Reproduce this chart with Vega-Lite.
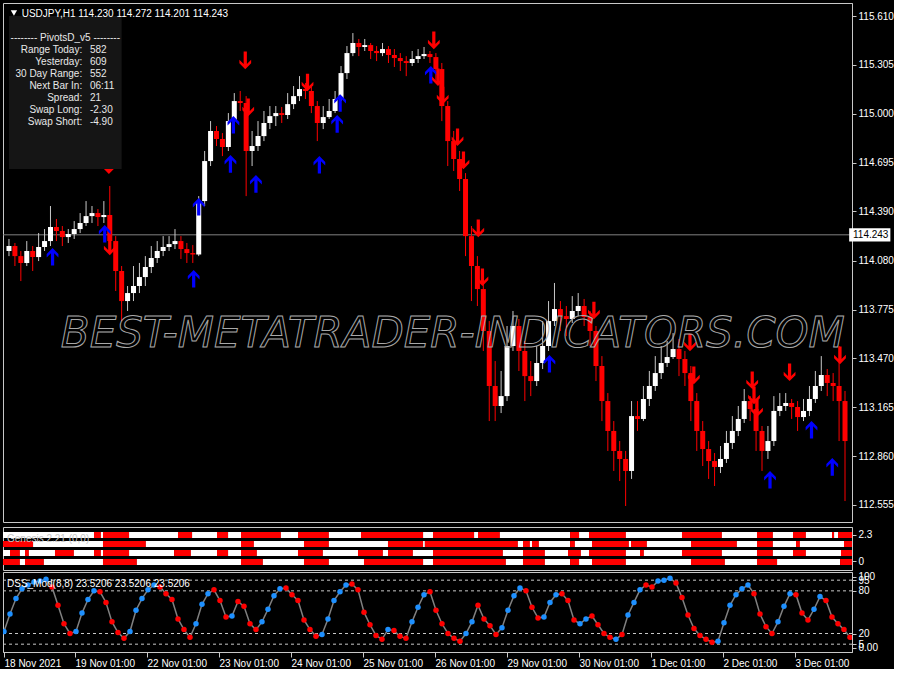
{
"$schema": "https://vega.github.io/schema/vega-lite/v6.json",
"background": "#000000",
"padding": {"left": 2, "top": 2, "right": 0, "bottom": 0},
"spacing": 3,
"config": {
  "view": {"stroke": "#c8c8c8", "strokeWidth": 1},
  "axis": {"labelFont": "Liberation Sans", "labelFontSize": 10, "labelColor": "#ffffff", "tickColor": "#c8c8c8", "domainColor": "#c8c8c8", "grid": false, "tickSize": 4, "labelPadding": 2}
},
"datasets": {
"candles": [
{"t":0,"o":114.142,"h":114.217,"l":114.110,"c":114.173,"d":"up"},
{"t":2,"o":114.173,"h":114.192,"l":114.048,"c":114.110,"d":"dn"},
{"t":4,"o":114.110,"h":114.142,"l":113.954,"c":114.067,"d":"dn"},
{"t":6,"o":114.067,"h":114.204,"l":114.048,"c":114.142,"d":"up"},
{"t":8,"o":114.142,"h":114.173,"l":114.017,"c":114.104,"d":"dn"},
{"t":10,"o":114.104,"h":114.254,"l":114.079,"c":114.167,"d":"up"},
{"t":12,"o":114.167,"h":114.279,"l":114.142,"c":114.204,"d":"up"},
{"t":14,"o":114.204,"h":114.423,"l":114.173,"c":114.292,"d":"up"},
{"t":16,"o":114.292,"h":114.342,"l":114.204,"c":114.267,"d":"dn"},
{"t":18,"o":114.267,"h":114.298,"l":114.173,"c":114.229,"d":"dn"},
{"t":20,"o":114.229,"h":114.279,"l":114.192,"c":114.248,"d":"up"},
{"t":22,"o":114.248,"h":114.329,"l":114.217,"c":114.279,"d":"up"},
{"t":24,"o":114.279,"h":114.379,"l":114.254,"c":114.317,"d":"up"},
{"t":26,"o":114.317,"h":114.454,"l":114.298,"c":114.360,"d":"up"},
{"t":28,"o":114.360,"h":114.423,"l":114.317,"c":114.379,"d":"up"},
{"t":30,"o":114.379,"h":114.404,"l":114.298,"c":114.354,"d":"dn"},
{"t":32,"o":114.354,"h":114.454,"l":114.317,"c":114.367,"d":"up"},
{"t":34,"o":114.367,"h":114.548,"l":114.142,"c":114.204,"d":"dn"},
{"t":36,"o":114.204,"h":114.235,"l":113.892,"c":114.017,"d":"dn"},
{"t":38,"o":114.017,"h":114.048,"l":113.704,"c":113.829,"d":"dn"},
{"t":40,"o":113.829,"h":113.923,"l":113.767,"c":113.879,"d":"up"},
{"t":42,"o":113.879,"h":114.048,"l":113.829,"c":113.923,"d":"up"},
{"t":44,"o":113.923,"h":114.067,"l":113.879,"c":113.979,"d":"up"},
{"t":46,"o":113.979,"h":114.110,"l":113.923,"c":114.042,"d":"up"},
{"t":48,"o":114.042,"h":114.173,"l":114.004,"c":114.098,"d":"up"},
{"t":50,"o":114.098,"h":114.204,"l":114.067,"c":114.142,"d":"up"},
{"t":52,"o":114.142,"h":114.235,"l":114.110,"c":114.167,"d":"up"},
{"t":54,"o":114.167,"h":114.235,"l":114.142,"c":114.185,"d":"up"},
{"t":56,"o":114.185,"h":114.279,"l":114.154,"c":114.204,"d":"up"},
{"t":58,"o":114.204,"h":114.235,"l":114.092,"c":114.154,"d":"dn"},
{"t":60,"o":114.154,"h":114.192,"l":114.067,"c":114.129,"d":"dn"},
{"t":62,"o":114.129,"h":114.179,"l":114.067,"c":114.120,"d":"dn"},
{"t":64,"o":114.120,"h":114.485,"l":114.110,"c":114.454,"d":"up"},
{"t":66,"o":114.454,"h":114.767,"l":114.423,"c":114.704,"d":"up"},
{"t":68,"o":114.704,"h":114.954,"l":114.673,"c":114.892,"d":"up"},
{"t":70,"o":114.892,"h":114.923,"l":114.798,"c":114.842,"d":"dn"},
{"t":72,"o":114.842,"h":114.879,"l":114.735,"c":114.792,"d":"dn"},
{"t":74,"o":114.792,"h":115.004,"l":114.767,"c":114.954,"d":"up"},
{"t":76,"o":114.954,"h":115.129,"l":114.923,"c":115.079,"d":"up"},
{"t":78,"o":115.079,"h":115.142,"l":115.017,"c":115.067,"d":"dn"},
{"t":80,"o":115.067,"h":115.110,"l":114.485,"c":114.767,"d":"dn"},
{"t":82,"o":114.767,"h":114.892,"l":114.673,"c":114.798,"d":"up"},
{"t":84,"o":114.798,"h":114.954,"l":114.767,"c":114.860,"d":"up"},
{"t":86,"o":114.860,"h":115.017,"l":114.829,"c":114.942,"d":"up"},
{"t":88,"o":114.942,"h":115.048,"l":114.904,"c":114.985,"d":"up"},
{"t":90,"o":114.985,"h":115.048,"l":114.923,"c":115.004,"d":"up"},
{"t":92,"o":115.004,"h":115.042,"l":114.942,"c":114.992,"d":"dn"},
{"t":94,"o":114.992,"h":115.129,"l":114.967,"c":115.060,"d":"up"},
{"t":96,"o":115.060,"h":115.173,"l":115.029,"c":115.110,"d":"up"},
{"t":98,"o":115.110,"h":115.235,"l":115.079,"c":115.154,"d":"up"},
{"t":100,"o":115.154,"h":115.192,"l":115.092,"c":115.142,"d":"dn"},
{"t":102,"o":115.142,"h":115.167,"l":115.004,"c":115.048,"d":"dn"},
{"t":104,"o":115.048,"h":115.079,"l":114.829,"c":114.942,"d":"dn"},
{"t":106,"o":114.942,"h":115.048,"l":114.904,"c":114.979,"d":"up"},
{"t":108,"o":114.979,"h":115.092,"l":114.967,"c":115.017,"d":"up"},
{"t":110,"o":115.017,"h":115.142,"l":115.004,"c":115.092,"d":"up"},
{"t":112,"o":115.092,"h":115.298,"l":115.079,"c":115.254,"d":"up"},
{"t":114,"o":115.254,"h":115.423,"l":115.217,"c":115.379,"d":"up"},
{"t":116,"o":115.379,"h":115.504,"l":115.360,"c":115.442,"d":"up"},
{"t":118,"o":115.442,"h":115.467,"l":115.360,"c":115.417,"d":"dn"},
{"t":120,"o":115.417,"h":115.467,"l":115.392,"c":115.429,"d":"up"},
{"t":122,"o":115.429,"h":115.442,"l":115.342,"c":115.392,"d":"dn"},
{"t":124,"o":115.392,"h":115.423,"l":115.329,"c":115.379,"d":"dn"},
{"t":126,"o":115.379,"h":115.442,"l":115.360,"c":115.404,"d":"up"},
{"t":128,"o":115.404,"h":115.423,"l":115.317,"c":115.367,"d":"dn"},
{"t":130,"o":115.367,"h":115.404,"l":115.292,"c":115.348,"d":"dn"},
{"t":132,"o":115.348,"h":115.379,"l":115.267,"c":115.329,"d":"dn"},
{"t":134,"o":115.329,"h":115.360,"l":115.235,"c":115.317,"d":"dn"},
{"t":136,"o":115.317,"h":115.392,"l":115.298,"c":115.342,"d":"up"},
{"t":138,"o":115.342,"h":115.404,"l":115.317,"c":115.360,"d":"up"},
{"t":140,"o":115.360,"h":115.417,"l":115.342,"c":115.373,"d":"up"},
{"t":142,"o":115.373,"h":115.392,"l":115.317,"c":115.354,"d":"dn"},
{"t":144,"o":115.354,"h":115.379,"l":115.204,"c":115.279,"d":"dn"},
{"t":146,"o":115.279,"h":115.317,"l":114.954,"c":115.048,"d":"dn"},
{"t":148,"o":115.048,"h":115.079,"l":114.673,"c":114.829,"d":"dn"},
{"t":150,"o":114.829,"h":114.892,"l":114.642,"c":114.717,"d":"dn"},
{"t":152,"o":114.717,"h":114.767,"l":114.517,"c":114.592,"d":"dn"},
{"t":154,"o":114.592,"h":114.629,"l":114.110,"c":114.235,"d":"dn"},
{"t":156,"o":114.235,"h":114.298,"l":113.829,"c":114.048,"d":"dn"},
{"t":158,"o":114.048,"h":114.110,"l":113.798,"c":113.904,"d":"dn"},
{"t":160,"o":113.904,"h":113.954,"l":113.517,"c":113.642,"d":"dn"},
{"t":162,"o":113.642,"h":113.704,"l":113.079,"c":113.298,"d":"dn"},
{"t":164,"o":113.298,"h":113.454,"l":113.079,"c":113.173,"d":"dn"},
{"t":166,"o":113.173,"h":113.392,"l":113.129,"c":113.235,"d":"up"},
{"t":168,"o":113.235,"h":113.673,"l":113.204,"c":113.548,"d":"up"},
{"t":170,"o":113.548,"h":113.767,"l":113.517,"c":113.673,"d":"up"},
{"t":172,"o":113.673,"h":113.717,"l":113.392,"c":113.517,"d":"dn"},
{"t":174,"o":113.517,"h":113.579,"l":113.204,"c":113.360,"d":"dn"},
{"t":176,"o":113.360,"h":113.454,"l":113.235,"c":113.329,"d":"dn"},
{"t":178,"o":113.329,"h":113.548,"l":113.298,"c":113.442,"d":"up"},
{"t":180,"o":113.442,"h":113.704,"l":113.404,"c":113.548,"d":"up"},
{"t":182,"o":113.548,"h":113.829,"l":113.517,"c":113.704,"d":"up"},
{"t":184,"o":113.704,"h":113.942,"l":113.673,"c":113.779,"d":"up"},
{"t":186,"o":113.779,"h":113.829,"l":113.642,"c":113.735,"d":"dn"},
{"t":188,"o":113.735,"h":113.798,"l":113.610,"c":113.717,"d":"dn"},
{"t":190,"o":113.717,"h":113.860,"l":113.692,"c":113.767,"d":"up"},
{"t":192,"o":113.767,"h":113.879,"l":113.735,"c":113.798,"d":"up"},
{"t":194,"o":113.798,"h":113.842,"l":113.673,"c":113.729,"d":"dn"},
{"t":196,"o":113.729,"h":113.767,"l":113.548,"c":113.642,"d":"dn"},
{"t":198,"o":113.642,"h":113.673,"l":113.329,"c":113.423,"d":"dn"},
{"t":200,"o":113.423,"h":113.485,"l":113.079,"c":113.204,"d":"dn"},
{"t":202,"o":113.204,"h":113.254,"l":112.892,"c":113.017,"d":"dn"},
{"t":204,"o":113.017,"h":113.079,"l":112.767,"c":112.892,"d":"dn"},
{"t":206,"o":112.892,"h":112.954,"l":112.704,"c":112.842,"d":"dn"},
{"t":208,"o":112.842,"h":112.892,"l":112.548,"c":112.767,"d":"dn"},
{"t":210,"o":112.767,"h":113.204,"l":112.717,"c":113.110,"d":"up"},
{"t":212,"o":113.110,"h":113.204,"l":113.017,"c":113.092,"d":"dn"},
{"t":214,"o":113.092,"h":113.298,"l":113.079,"c":113.217,"d":"up"},
{"t":216,"o":113.217,"h":113.392,"l":113.173,"c":113.298,"d":"up"},
{"t":218,"o":113.298,"h":113.485,"l":113.267,"c":113.379,"d":"up"},
{"t":220,"o":113.379,"h":113.548,"l":113.342,"c":113.442,"d":"up"},
{"t":222,"o":113.442,"h":113.579,"l":113.417,"c":113.479,"d":"up"},
{"t":224,"o":113.479,"h":113.629,"l":113.467,"c":113.529,"d":"up"},
{"t":226,"o":113.529,"h":113.592,"l":113.360,"c":113.467,"d":"dn"},
{"t":228,"o":113.467,"h":113.517,"l":113.298,"c":113.379,"d":"dn"},
{"t":230,"o":113.379,"h":113.423,"l":113.079,"c":113.204,"d":"dn"},
{"t":232,"o":113.204,"h":113.254,"l":112.892,"c":113.017,"d":"dn"},
{"t":234,"o":113.017,"h":113.079,"l":112.798,"c":112.904,"d":"dn"},
{"t":236,"o":112.904,"h":112.954,"l":112.717,"c":112.829,"d":"dn"},
{"t":238,"o":112.829,"h":112.879,"l":112.673,"c":112.792,"d":"dn"},
{"t":240,"o":112.792,"h":112.923,"l":112.754,"c":112.842,"d":"up"},
{"t":242,"o":112.842,"h":113.017,"l":112.817,"c":112.942,"d":"up"},
{"t":244,"o":112.942,"h":113.110,"l":112.904,"c":113.017,"d":"up"},
{"t":246,"o":113.017,"h":113.173,"l":112.985,"c":113.092,"d":"up"},
{"t":248,"o":113.092,"h":113.279,"l":113.067,"c":113.204,"d":"up"},
{"t":250,"o":113.204,"h":113.235,"l":113.079,"c":113.154,"d":"dn"},
{"t":252,"o":113.154,"h":113.204,"l":112.892,"c":113.017,"d":"dn"},
{"t":254,"o":113.017,"h":113.048,"l":112.767,"c":112.892,"d":"dn"},
{"t":256,"o":112.892,"h":113.048,"l":112.842,"c":112.954,"d":"up"},
{"t":258,"o":112.954,"h":113.235,"l":112.923,"c":113.142,"d":"up"},
{"t":260,"o":113.142,"h":113.254,"l":113.110,"c":113.173,"d":"up"},
{"t":262,"o":113.173,"h":113.254,"l":113.142,"c":113.192,"d":"up"},
{"t":264,"o":113.192,"h":113.217,"l":113.092,"c":113.167,"d":"dn"},
{"t":266,"o":113.167,"h":113.204,"l":113.017,"c":113.104,"d":"dn"},
{"t":268,"o":113.104,"h":113.217,"l":113.079,"c":113.142,"d":"up"},
{"t":270,"o":113.142,"h":113.298,"l":113.110,"c":113.217,"d":"up"},
{"t":272,"o":113.217,"h":113.392,"l":113.192,"c":113.298,"d":"up"},
{"t":274,"o":113.298,"h":113.485,"l":113.267,"c":113.367,"d":"up"},
{"t":276,"o":113.367,"h":113.404,"l":113.235,"c":113.317,"d":"dn"},
{"t":278,"o":113.317,"h":113.379,"l":113.204,"c":113.298,"d":"dn"},
{"t":280,"o":113.298,"h":113.548,"l":112.954,"c":113.204,"d":"dn"},
{"t":282,"o":113.204,"h":113.267,"l":112.579,"c":112.954,"d":"dn"}
],
"arrows": [
{"t":14.7,"p":114.110,"dir":"buy"},{"t":32.3,"p":114.254,"dir":"buy"},{"t":62.3,"p":113.973,"dir":"buy"},{"t":64,"p":114.423,"dir":"buy"},{"t":74.7,"p":114.691,"dir":"buy"},{"t":75.7,"p":114.935,"dir":"buy"},{"t":83.3,"p":114.566,"dir":"buy"},{"t":104.7,"p":114.685,"dir":"buy"},{"t":110.7,"p":114.941,"dir":"buy"},{"t":111.7,"p":115.072,"dir":"buy"},{"t":142.3,"p":115.248,"dir":"buy"},{"t":182.3,"p":113.441,"dir":"buy"},{"t":256.7,"p":112.716,"dir":"buy"},{"t":270.7,"p":113.029,"dir":"buy"},{"t":277.7,"p":112.797,"dir":"buy"},
{"t":33.7,"p":114.673,"dir":"sell"},{"t":34,"p":114.166,"dir":"sell"},{"t":79.7,"p":115.329,"dir":"sell"},{"t":80.7,"p":115.035,"dir":"sell"},{"t":100.7,"p":115.191,"dir":"sell"},{"t":143.3,"p":115.454,"dir":"sell"},{"t":144.7,"p":115.223,"dir":"sell"},{"t":146.3,"p":115.110,"dir":"sell"},{"t":151.3,"p":114.848,"dir":"sell"},{"t":153.3,"p":114.704,"dir":"sell"},{"t":158.3,"p":114.279,"dir":"sell"},{"t":159.7,"p":113.973,"dir":"sell"},{"t":197.3,"p":113.766,"dir":"sell"},{"t":229.7,"p":113.566,"dir":"sell"},{"t":231,"p":113.360,"dir":"sell"},{"t":250.7,"p":113.329,"dir":"sell"},{"t":251.3,"p":113.235,"dir":"sell"},{"t":252.3,"p":113.154,"dir":"sell"},{"t":263.3,"p":113.379,"dir":"sell"},{"t":280.3,"p":113.485,"dir":"sell"}
],
"info": [
{"p":115.398,"lab":"Range  Today:","val":"582"},
{"p":115.323,"lab":"Yesterday:","val":"609"},
{"p":115.248,"lab":"30 Day Range:","val":"552"},
{"p":115.173,"lab":"Next Bar In:","val":"06:11"},
{"p":115.098,"lab":"Spread:","val":"21"},
{"p":115.023,"lab":"Swap  Long:","val":"-2.30"},
{"p":114.948,"lab":"Swap  Short:","val":"-4.90"}
],
"strip": [
{"row":"r1","s":-0.33,"e":30,"v":"W"},{"row":"r1","s":30,"e":32.3,"v":"R"},{"row":"r1","s":32.3,"e":33,"v":"W"},{"row":"r1","s":33,"e":41.7,"v":"R"},{"row":"r1","s":41.7,"e":58,"v":"W"},{"row":"r1","s":58,"e":62.7,"v":"R"},{"row":"r1","s":62.7,"e":71,"v":"W"},{"row":"r1","s":71,"e":74.7,"v":"R"},{"row":"r1","s":74.7,"e":79,"v":"W"},{"row":"r1","s":79,"e":92.3,"v":"R"},{"row":"r1","s":92.3,"e":98,"v":"W"},{"row":"r1","s":98,"e":108.3,"v":"R"},{"row":"r1","s":108.3,"e":119,"v":"W"},{"row":"r1","s":119,"e":139.7,"v":"R"},{"row":"r1","s":139.7,"e":143,"v":"W"},{"row":"r1","s":143,"e":156.7,"v":"R"},{"row":"r1","s":156.7,"e":158,"v":"W"},{"row":"r1","s":158,"e":165.3,"v":"R"},{"row":"r1","s":165.3,"e":188.7,"v":"W"},{"row":"r1","s":188.7,"e":191.7,"v":"R"},{"row":"r1","s":191.7,"e":195,"v":"W"},{"row":"r1","s":195,"e":207.3,"v":"R"},{"row":"r1","s":207.3,"e":226,"v":"W"},{"row":"r1","s":226,"e":239.3,"v":"R"},{"row":"r1","s":239.3,"e":251,"v":"W"},{"row":"r1","s":251,"e":256.3,"v":"R"},{"row":"r1","s":256.3,"e":263,"v":"W"},{"row":"r1","s":263,"e":267.3,"v":"R"},{"row":"r1","s":267.3,"e":276,"v":"W"},{"row":"r1","s":276,"e":276.7,"v":"R"},{"row":"r1","s":276.7,"e":278,"v":"W"},{"row":"r1","s":278,"e":282.67,"v":"R"},
{"row":"r2","s":-0.33,"e":9.7,"v":"R"},{"row":"r2","s":9.7,"e":33,"v":"W"},{"row":"r2","s":33,"e":47.3,"v":"R"},{"row":"r2","s":47.3,"e":79,"v":"W"},{"row":"r2","s":79,"e":83.3,"v":"R"},{"row":"r2","s":83.3,"e":100,"v":"W"},{"row":"r2","s":100,"e":108.3,"v":"R"},{"row":"r2","s":108.3,"e":128,"v":"W"},{"row":"r2","s":128,"e":139.7,"v":"R"},{"row":"r2","s":139.7,"e":140.3,"v":"W"},{"row":"r2","s":140.3,"e":171.3,"v":"R"},{"row":"r2","s":171.3,"e":173,"v":"W"},{"row":"r2","s":173,"e":175.3,"v":"R"},{"row":"r2","s":175.3,"e":176,"v":"W"},{"row":"r2","s":176,"e":178.3,"v":"R"},{"row":"r2","s":178.3,"e":188.7,"v":"W"},{"row":"r2","s":188.7,"e":190.3,"v":"R"},{"row":"r2","s":190.3,"e":196,"v":"W"},{"row":"r2","s":196,"e":208.3,"v":"R"},{"row":"r2","s":208.3,"e":209,"v":"W"},{"row":"r2","s":209,"e":214.3,"v":"R"},{"row":"r2","s":214.3,"e":229,"v":"W"},{"row":"r2","s":229,"e":244.3,"v":"R"},{"row":"r2","s":244.3,"e":251,"v":"W"},{"row":"r2","s":251,"e":256.3,"v":"R"},{"row":"r2","s":256.3,"e":264,"v":"W"},{"row":"r2","s":264,"e":265.3,"v":"R"},{"row":"r2","s":265.3,"e":280,"v":"W"},{"row":"r2","s":280,"e":282.67,"v":"R"},
{"row":"r3","s":-0.33,"e":2,"v":"W"},{"row":"r3","s":2,"e":5.3,"v":"R"},{"row":"r3","s":5.3,"e":7,"v":"W"},{"row":"r3","s":7,"e":8.3,"v":"R"},{"row":"r3","s":8.3,"e":17,"v":"W"},{"row":"r3","s":17,"e":23.3,"v":"R"},{"row":"r3","s":23.3,"e":30,"v":"W"},{"row":"r3","s":30,"e":32.3,"v":"R"},{"row":"r3","s":32.3,"e":33,"v":"W"},{"row":"r3","s":33,"e":41.7,"v":"R"},{"row":"r3","s":41.7,"e":56.7,"v":"W"},{"row":"r3","s":56.7,"e":62.3,"v":"R"},{"row":"r3","s":62.3,"e":71,"v":"W"},{"row":"r3","s":71,"e":74.7,"v":"R"},{"row":"r3","s":74.7,"e":79,"v":"W"},{"row":"r3","s":79,"e":84.3,"v":"R"},{"row":"r3","s":84.3,"e":98,"v":"W"},{"row":"r3","s":98,"e":106.3,"v":"R"},{"row":"r3","s":106.3,"e":118,"v":"W"},{"row":"r3","s":118,"e":126.3,"v":"R"},{"row":"r3","s":126.3,"e":128,"v":"W"},{"row":"r3","s":128,"e":136.3,"v":"R"},{"row":"r3","s":136.3,"e":143,"v":"W"},{"row":"r3","s":143,"e":166.3,"v":"R"},{"row":"r3","s":166.3,"e":173,"v":"W"},{"row":"r3","s":173,"e":180.3,"v":"R"},{"row":"r3","s":180.3,"e":188,"v":"W"},{"row":"r3","s":188,"e":192.3,"v":"R"},{"row":"r3","s":192.3,"e":195,"v":"W"},{"row":"r3","s":195,"e":207.3,"v":"R"},{"row":"r3","s":207.3,"e":212,"v":"W"},{"row":"r3","s":212,"e":213.3,"v":"R"},{"row":"r3","s":213.3,"e":226,"v":"W"},{"row":"r3","s":226,"e":239.3,"v":"R"},{"row":"r3","s":239.3,"e":251,"v":"W"},{"row":"r3","s":251,"e":256.3,"v":"R"},{"row":"r3","s":256.3,"e":263,"v":"W"},{"row":"r3","s":263,"e":267.3,"v":"R"},{"row":"r3","s":267.3,"e":279,"v":"W"},{"row":"r3","s":279,"e":282.67,"v":"R"},
{"row":"r4","s":-0.33,"e":5.3,"v":"R"},{"row":"r4","s":5.3,"e":7,"v":"W"},{"row":"r4","s":7,"e":13.3,"v":"R"},{"row":"r4","s":13.3,"e":33,"v":"W"},{"row":"r4","s":33,"e":44.3,"v":"R"},{"row":"r4","s":44.3,"e":79,"v":"W"},{"row":"r4","s":79,"e":86.3,"v":"R"},{"row":"r4","s":86.3,"e":100,"v":"W"},{"row":"r4","s":100,"e":108.3,"v":"R"},{"row":"r4","s":108.3,"e":120,"v":"W"},{"row":"r4","s":120,"e":139.7,"v":"R"},{"row":"r4","s":139.7,"e":143,"v":"W"},{"row":"r4","s":143,"e":167.3,"v":"R"},{"row":"r4","s":167.3,"e":173,"v":"W"},{"row":"r4","s":173,"e":180.3,"v":"R"},{"row":"r4","s":180.3,"e":188.7,"v":"W"},{"row":"r4","s":188.7,"e":191.7,"v":"R"},{"row":"r4","s":191.7,"e":196,"v":"W"},{"row":"r4","s":196,"e":207.3,"v":"R"},{"row":"r4","s":207.3,"e":229,"v":"W"},{"row":"r4","s":229,"e":240.3,"v":"R"},{"row":"r4","s":240.3,"e":251,"v":"W"},{"row":"r4","s":251,"e":257.7,"v":"R"},{"row":"r4","s":257.7,"e":278.7,"v":"W"},{"row":"r4","s":278.7,"e":282.67,"v":"R"}
],
"dss": [
{"t":0,"v":22.8,"c":"b"},{"t":2,"v":47.3,"c":"b"},{"t":4,"v":69.1,"c":"b"},{"t":6,"v":82.8,"c":"b"},{"t":8,"v":88.2,"c":"b"},{"t":10,"v":92.3,"c":"b"},{"t":12,"v":93.7,"c":"b"},{"t":14,"v":96.4,"c":"b"},{"t":16,"v":85.5,"c":"r"},{"t":18,"v":59.6,"c":"r"},{"t":20,"v":33.7,"c":"r"},{"t":22,"v":20.0,"c":"r"},{"t":24,"v":22.8,"c":"b"},{"t":26,"v":48.7,"c":"b"},{"t":28,"v":67.8,"c":"b"},{"t":30,"v":80.0,"c":"b"},{"t":32,"v":78.7,"c":"r"},{"t":34,"v":63.7,"c":"r"},{"t":36,"v":36.4,"c":"r"},{"t":38,"v":21.4,"c":"r"},{"t":40,"v":13.2,"c":"r"},{"t":42,"v":22.8,"c":"b"},{"t":44,"v":52.8,"c":"b"},{"t":46,"v":69.1,"c":"b"},{"t":48,"v":81.4,"c":"b"},{"t":50,"v":88.2,"c":"b"},{"t":52,"v":85.5,"c":"r"},{"t":54,"v":76.0,"c":"r"},{"t":56,"v":67.8,"c":"r"},{"t":58,"v":40.5,"c":"r"},{"t":60,"v":25.5,"c":"r"},{"t":62,"v":14.6,"c":"r"},{"t":64,"v":33.7,"c":"b"},{"t":66,"v":61.0,"c":"b"},{"t":68,"v":76.0,"c":"b"},{"t":70,"v":81.4,"c":"r"},{"t":72,"v":66.4,"c":"r"},{"t":74,"v":43.2,"c":"r"},{"t":76,"v":44.6,"c":"b"},{"t":78,"v":65.0,"c":"r"},{"t":80,"v":58.2,"c":"r"},{"t":82,"v":33.7,"c":"r"},{"t":84,"v":25.5,"c":"r"},{"t":86,"v":36.4,"c":"b"},{"t":88,"v":54.1,"c":"b"},{"t":90,"v":73.2,"c":"b"},{"t":92,"v":82.8,"c":"b"},{"t":94,"v":84.1,"c":"r"},{"t":96,"v":74.6,"c":"r"},{"t":98,"v":66.4,"c":"r"},{"t":100,"v":39.1,"c":"r"},{"t":102,"v":25.5,"c":"r"},{"t":104,"v":16.0,"c":"r"},{"t":106,"v":18.7,"c":"b"},{"t":108,"v":40.5,"c":"b"},{"t":110,"v":66.4,"c":"b"},{"t":112,"v":78.7,"c":"b"},{"t":114,"v":88.2,"c":"b"},{"t":116,"v":89.6,"c":"r"},{"t":118,"v":81.4,"c":"r"},{"t":120,"v":50.0,"c":"r"},{"t":122,"v":32.3,"c":"r"},{"t":124,"v":17.3,"c":"r"},{"t":126,"v":11.9,"c":"r"},{"t":128,"v":25.5,"c":"b"},{"t":130,"v":24.1,"c":"r"},{"t":132,"v":16.0,"c":"r"},{"t":134,"v":13.2,"c":"r"},{"t":136,"v":36.4,"c":"b"},{"t":138,"v":56.9,"c":"b"},{"t":140,"v":74.6,"c":"b"},{"t":142,"v":78.7,"c":"r"},{"t":144,"v":52.8,"c":"r"},{"t":146,"v":33.7,"c":"r"},{"t":148,"v":20.0,"c":"r"},{"t":150,"v":13.2,"c":"r"},{"t":152,"v":9.1,"c":"r"},{"t":154,"v":20.0,"c":"b"},{"t":156,"v":36.4,"c":"b"},{"t":158,"v":59.6,"c":"r"},{"t":160,"v":40.5,"c":"r"},{"t":162,"v":31.0,"c":"r"},{"t":164,"v":18.7,"c":"r"},{"t":166,"v":28.2,"c":"b"},{"t":168,"v":52.8,"c":"b"},{"t":170,"v":73.2,"c":"b"},{"t":172,"v":84.1,"c":"b"},{"t":174,"v":80.0,"c":"r"},{"t":176,"v":56.9,"c":"r"},{"t":178,"v":41.9,"c":"r"},{"t":180,"v":43.2,"c":"b"},{"t":182,"v":63.7,"c":"b"},{"t":184,"v":74.6,"c":"b"},{"t":186,"v":76.0,"c":"r"},{"t":188,"v":66.4,"c":"r"},{"t":190,"v":39.1,"c":"r"},{"t":192,"v":33.7,"c":"b"},{"t":194,"v":40.5,"c":"b"},{"t":196,"v":44.6,"c":"r"},{"t":198,"v":32.3,"c":"r"},{"t":200,"v":20.0,"c":"r"},{"t":202,"v":14.6,"c":"r"},{"t":204,"v":11.9,"c":"b"},{"t":206,"v":18.7,"c":"r"},{"t":208,"v":46.0,"c":"b"},{"t":210,"v":63.7,"c":"b"},{"t":212,"v":81.4,"c":"b"},{"t":214,"v":88.2,"c":"r"},{"t":216,"v":85.5,"c":"r"},{"t":218,"v":93.7,"c":"b"},{"t":220,"v":95.0,"c":"b"},{"t":222,"v":97.8,"c":"b"},{"t":224,"v":91.0,"c":"r"},{"t":226,"v":70.5,"c":"r"},{"t":228,"v":46.0,"c":"r"},{"t":230,"v":26.9,"c":"r"},{"t":232,"v":17.3,"c":"r"},{"t":234,"v":11.9,"c":"r"},{"t":236,"v":7.8,"c":"r"},{"t":238,"v":9.1,"c":"b"},{"t":240,"v":35.0,"c":"b"},{"t":242,"v":59.6,"c":"b"},{"t":244,"v":74.6,"c":"b"},{"t":246,"v":82.8,"c":"b"},{"t":248,"v":88.2,"c":"b"},{"t":250,"v":76.0,"c":"r"},{"t":252,"v":47.3,"c":"r"},{"t":254,"v":29.6,"c":"r"},{"t":256,"v":20.0,"c":"r"},{"t":258,"v":36.4,"c":"b"},{"t":260,"v":58.2,"c":"b"},{"t":262,"v":76.0,"c":"b"},{"t":264,"v":74.6,"c":"r"},{"t":266,"v":48.7,"c":"r"},{"t":268,"v":39.1,"c":"r"},{"t":270,"v":54.1,"c":"b"},{"t":272,"v":71.9,"c":"b"},{"t":274,"v":66.4,"c":"r"},{"t":276,"v":43.2,"c":"r"},{"t":278,"v":33.7,"c":"r"},{"t":280,"v":25.5,"c":"r"},{"t":282,"v":14.6,"c":"r"}
]
},
"vconcat": [
{
  "width": 849, "height": 519,
  "layer": [
    {"data": {"values": [{"p": 114.243}]}, "mark": {"type": "rule", "color": "#808080", "strokeWidth": 1},
     "encoding": {"y": {"field": "p", "type": "quantitative", "scale": {"domain": [112.448, 115.692], "nice": false, "zero": false},
       "axis": {"orient": "right", "values": [112.555, 112.86, 113.165, 113.47, 113.775, 114.08, 114.39, 114.695, 115, 115.305, 115.61], "format": ".3f", "labelOverlap": false, "title": null}}}},
    {"data": {"name": "candles"}, "mark": {"type": "rule", "strokeWidth": 1, "clip": true},
     "encoding": {"x": {"field": "t", "type": "quantitative", "scale": {"domain": [-0.33, 282.67], "nice": false, "zero": false}, "axis": null},
       "y": {"field": "l", "type": "quantitative", "scale": {"domain": [112.448, 115.692], "nice": false, "zero": false},
         "axis": {"orient": "right", "values": [112.555, 112.86, 113.165, 113.47, 113.775, 114.08, 114.39, 114.695, 115, 115.305, 115.61], "format": ".3f", "labelOverlap": false, "title": null}},
       "y2": {"field": "h"},
       "color": {"field": "d", "type": "nominal", "scale": {"domain": ["up", "dn"], "range": ["#c8c8c8", "#ff0000"]}, "legend": null}}},
    {"data": {"name": "candles"}, "mark": {"type": "bar", "width": 5, "clip": true},
     "encoding": {"x": {"field": "t", "type": "quantitative", "scale": {"domain": [-0.33, 282.67], "nice": false, "zero": false}, "axis": null},
       "y": {"field": "o", "type": "quantitative", "scale": {"domain": [112.448, 115.692], "nice": false, "zero": false},
         "axis": {"orient": "right", "values": [112.555, 112.86, 113.165, 113.47, 113.775, 114.08, 114.39, 114.695, 115, 115.305, 115.61], "format": ".3f", "labelOverlap": false, "title": null}},
       "y2": {"field": "c"},
       "color": {"field": "d", "type": "nominal", "scale": {"domain": ["up", "dn"], "range": ["#ffffff", "#ff0000"]}, "legend": null}}},
    {"data": {"name": "arrows"}, "mark": {"type": "point", "filled": true, "size": 360, "opacity": 1, "strokeWidth": 0},
     "encoding": {"x": {"field": "t", "type": "quantitative", "scale": {"domain": [-0.33, 282.67], "nice": false, "zero": false}, "axis": null},
       "y": {"field": "p", "type": "quantitative", "scale": {"domain": [112.448, 115.692], "nice": false, "zero": false},
         "axis": {"orient": "right", "values": [112.555, 112.86, 113.165, 113.47, 113.775, 114.08, 114.39, 114.695, 115, 115.305, 115.61], "format": ".3f", "labelOverlap": false, "title": null}},
       "shape": {"field": "dir", "type": "nominal", "scale": {"domain": ["buy", "sell"], "range": ["M-0.17,1 L0.17,1 L0.17,-0.3 L0.62,0.15 L0.62,-0.22 L0,-0.85 L-0.62,-0.22 L-0.62,0.15 L-0.17,-0.3 Z", "M-0.17,-1 L0.17,-1 L0.17,0.3 L0.62,-0.15 L0.62,0.22 L0,0.85 L-0.62,0.22 L-0.62,-0.15 L-0.17,0.3 Z"]}, "legend": null},
       "color": {"field": "dir", "type": "nominal", "scale": {"domain": ["buy", "sell"], "range": ["#0000ff", "#ff0000"]}, "legend": null}}},
    {"data": {"values": [{"t": 149.7, "p": 113.623, "txt": "BEST-METATRADER-INDICATORS.COM"}]},
     "mark": {"type": "text", "align": "center", "baseline": "middle", "font": "DejaVu Sans", "fontSize": 42, "fontStyle": "italic", "fill": "transparent", "stroke": "#a8a8a8", "strokeWidth": 1},
     "encoding": {"x": {"field": "t", "type": "quantitative", "scale": {"domain": [-0.33, 282.67], "nice": false, "zero": false}, "axis": null},
       "y": {"field": "p", "type": "quantitative", "scale": {"domain": [112.448, 115.692], "nice": false, "zero": false},
         "axis": {"orient": "right", "values": [112.555, 112.86, 113.165, 113.47, 113.775, 114.08, 114.39, 114.695, 115, 115.305, 115.61], "format": ".3f", "labelOverlap": false, "title": null}},
       "text": {"field": "txt"}}},
    {"data": {"values": [{"t0": 0, "t1": 38, "p0": 114.654, "p1": 115.610}]}, "mark": {"type": "rect", "color": "#151515"},
     "encoding": {"x": {"field": "t0", "type": "quantitative", "scale": {"domain": [-0.33, 282.67], "nice": false, "zero": false}, "axis": null},
       "x2": {"field": "t1"},
       "y": {"field": "p0", "type": "quantitative", "scale": {"domain": [112.448, 115.692], "nice": false, "zero": false},
         "axis": {"orient": "right", "values": [112.555, 112.86, 113.165, 113.47, 113.775, 114.08, 114.39, 114.695, 115, 115.305, 115.61], "format": ".3f", "labelOverlap": false, "title": null}},
       "y2": {"field": "p1"}}},
    {"data": {"values": [{"t": 19, "p": 115.473, "txt": "--------  PivotsD_v5  --------"}]},
     "mark": {"type": "text", "align": "center", "baseline": "middle", "font": "Liberation Sans", "fontSize": 10, "color": "#e8e8e8"},
     "encoding": {"x": {"field": "t", "type": "quantitative", "scale": {"domain": [-0.33, 282.67], "nice": false, "zero": false}, "axis": null},
       "y": {"field": "p", "type": "quantitative", "scale": {"domain": [112.448, 115.692], "nice": false, "zero": false},
         "axis": {"orient": "right", "values": [112.555, 112.86, 113.165, 113.47, 113.775, 114.08, 114.39, 114.695, 115, 115.305, 115.61], "format": ".3f", "labelOverlap": false, "title": null}},
       "text": {"field": "txt"}}},
    {"data": {"name": "info"},
     "mark": {"type": "text", "align": "right", "baseline": "middle", "font": "Liberation Sans", "fontSize": 10, "color": "#e8e8e8"},
     "encoding": {"x": {"datum": 24.7, "type": "quantitative", "scale": {"domain": [-0.33, 282.67], "nice": false, "zero": false}, "axis": null},
       "y": {"field": "p", "type": "quantitative", "scale": {"domain": [112.448, 115.692], "nice": false, "zero": false},
         "axis": {"orient": "right", "values": [112.555, 112.86, 113.165, 113.47, 113.775, 114.08, 114.39, 114.695, 115, 115.305, 115.61], "format": ".3f", "labelOverlap": false, "title": null}},
       "text": {"field": "lab"}}},
    {"data": {"name": "info"},
     "mark": {"type": "text", "align": "left", "baseline": "middle", "font": "Liberation Sans", "fontSize": 10, "color": "#e8e8e8"},
     "encoding": {"x": {"datum": 27.3, "type": "quantitative", "scale": {"domain": [-0.33, 282.67], "nice": false, "zero": false}, "axis": null},
       "y": {"field": "p", "type": "quantitative", "scale": {"domain": [112.448, 115.692], "nice": false, "zero": false},
         "axis": {"orient": "right", "values": [112.555, 112.86, 113.165, 113.47, 113.775, 114.08, 114.39, 114.695, 115, 115.305, 115.61], "format": ".3f", "labelOverlap": false, "title": null}},
       "text": {"field": "val"}}},
    {"data": {"values": [{"t": 1.67, "p": 115.629}]}, "mark": {"type": "point", "shape": "triangle-down", "filled": true, "size": 40, "color": "#ffffff", "opacity": 1},
     "encoding": {"x": {"field": "t", "type": "quantitative", "scale": {"domain": [-0.33, 282.67], "nice": false, "zero": false}, "axis": null},
       "y": {"field": "p", "type": "quantitative", "scale": {"domain": [112.448, 115.692], "nice": false, "zero": false},
         "axis": {"orient": "right", "values": [112.555, 112.86, 113.165, 113.47, 113.775, 114.08, 114.39, 114.695, 115, 115.305, 115.61], "format": ".3f", "labelOverlap": false, "title": null}}}},
    {"data": {"values": [{"t": 4.3, "p": 115.626, "txt": "USDJPY,H1  114.230 114.272 114.201 114.243"}]},
     "mark": {"type": "text", "align": "left", "baseline": "middle", "font": "Liberation Sans", "fontSize": 10, "color": "#ffffff"},
     "encoding": {"x": {"field": "t", "type": "quantitative", "scale": {"domain": [-0.33, 282.67], "nice": false, "zero": false}, "axis": null},
       "y": {"field": "p", "type": "quantitative", "scale": {"domain": [112.448, 115.692], "nice": false, "zero": false},
         "axis": {"orient": "right", "values": [112.555, 112.86, 113.165, 113.47, 113.775, 114.08, 114.39, 114.695, 115, 115.305, 115.61], "format": ".3f", "labelOverlap": false, "title": null}},
       "text": {"field": "txt"}}},
    {"data": {"values": [{"t0": 283.4, "t1": 297.3, "p0": 114.202, "p1": 114.284}]}, "mark": {"type": "rect", "color": "#ffffff"},
     "encoding": {"x": {"field": "t0", "type": "quantitative", "scale": {"domain": [-0.33, 282.67], "nice": false, "zero": false}, "axis": null},
       "x2": {"field": "t1"},
       "y": {"field": "p0", "type": "quantitative", "scale": {"domain": [112.448, 115.692], "nice": false, "zero": false},
         "axis": {"orient": "right", "values": [112.555, 112.86, 113.165, 113.47, 113.775, 114.08, 114.39, 114.695, 115, 115.305, 115.61], "format": ".3f", "labelOverlap": false, "title": null}},
       "y2": {"field": "p1"}}},
    {"data": {"values": [{"t": 284.7, "p": 114.243, "txt": "114.243"}]},
     "mark": {"type": "text", "align": "left", "baseline": "middle", "font": "Liberation Sans", "fontSize": 10, "color": "#000000"},
     "encoding": {"x": {"field": "t", "type": "quantitative", "scale": {"domain": [-0.33, 282.67], "nice": false, "zero": false}, "axis": null},
       "y": {"field": "p", "type": "quantitative", "scale": {"domain": [112.448, 115.692], "nice": false, "zero": false},
         "axis": {"orient": "right", "values": [112.555, 112.86, 113.165, 113.47, 113.775, 114.08, 114.39, 114.695, 115, 115.305, 115.61], "format": ".3f", "labelOverlap": false, "title": null}},
       "text": {"field": "txt"}}}
  ],
  "resolve": {"scale": {"color": "independent", "shape": "independent"}}
},
{
  "spacing": 0,
  "vconcat": [
    {
      "width": 849, "height": 43,
      "layer": [
        {"data": {"name": "strip"}, "mark": {"type": "bar", "clip": true},
         "encoding": {"x": {"field": "s", "type": "quantitative", "scale": {"domain": [-0.33, 282.67], "nice": false, "zero": false}, "axis": null},
           "x2": {"field": "e"},
           "y": {"field": "row", "type": "ordinal", "scale": {"domain": ["r1", "r2", "r3", "r4"], "paddingInner": 0.333, "paddingOuter": 0.556},
             "axis": {"orient": "right", "values": ["r1", "r4"], "labelExpr": "datum.value == 'r1' ? '2.3' : '0'", "title": null}},
           "color": {"field": "v", "type": "nominal", "scale": {"domain": ["R", "W"], "range": ["#ff0000", "#ffffff"]}, "legend": null}}},
        {"data": {"values": [{"t": 1, "row": "r1", "txt": "Genesis 2.21 (0,0)"}]},
         "mark": {"type": "text", "align": "left", "baseline": "middle", "dy": 4, "font": "Liberation Sans", "fontSize": 10, "color": "#c8c8c8"},
         "encoding": {"x": {"field": "t", "type": "quantitative", "scale": {"domain": [-0.33, 282.67], "nice": false, "zero": false}, "axis": null},
           "y": {"field": "row", "type": "ordinal", "scale": {"domain": ["r1", "r2", "r3", "r4"], "paddingInner": 0.333, "paddingOuter": 0.556},
             "axis": {"orient": "right", "values": ["r1", "r4"], "labelExpr": "datum.value == 'r1' ? '2.3' : '0'", "title": null}},
           "text": {"field": "txt"}}}
      ]
    },
    {
      "width": 849, "height": 80,
      "layer": [
        {"data": {"values": [{"v": 95}, {"v": 80}, {"v": 20}, {"v": 5}]}, "mark": {"type": "rule", "color": "#c8c8c8", "strokeDash": [3, 3], "strokeWidth": 1},
         "encoding": {"y": {"field": "v", "type": "quantitative", "scale": {"domain": [-6, 106.5], "nice": false, "zero": false},
           "axis": {"orient": "right", "values": [100, 95, 80, 20, 5, 0], "labelOverlap": false, "labelExpr": "datum.value == 0 ? '0.00' : datum.label", "title": null}}}},
        {"data": {"name": "dss"}, "mark": {"type": "line", "color": "#808080", "strokeWidth": 1.5, "clip": true},
         "encoding": {"x": {"field": "t", "type": "quantitative", "scale": {"domain": [-0.33, 282.67], "nice": false, "zero": false},
           "axis": {"orient": "bottom", "values": [0, 23.67, 47.67, 71.67, 95.67, 119.67, 143.67, 167.67, 191.67, 215.67, 239.67, 263.67], "labelExpr": "['18 Nov 2021','19 Nov 01:00','22 Nov 01:00','23 Nov 01:00','24 Nov 01:00','25 Nov 01:00','26 Nov 01:00','29 Nov 01:00','30 Nov 01:00','1 Dec 01:00','2 Dec 01:00','3 Dec 01:00'][round((datum.value + 0.4) / 24)]", "labelAlign": "left", "labelPadding": 1, "tickSize": 5, "labelOverlap": false, "labelFlush": false, "title": null}},
           "y": {"field": "v", "type": "quantitative", "scale": {"domain": [-6, 106.5], "nice": false, "zero": false},
             "axis": {"orient": "right", "values": [100, 95, 80, 20, 5, 0], "labelOverlap": false, "labelExpr": "datum.value == 0 ? '0.00' : datum.label", "title": null}}}},
        {"data": {"name": "dss"}, "mark": {"type": "circle", "size": 30, "opacity": 1, "clip": true},
         "encoding": {"x": {"field": "t", "type": "quantitative", "scale": {"domain": [-0.33, 282.67], "nice": false, "zero": false},
           "axis": {"orient": "bottom", "values": [0, 23.67, 47.67, 71.67, 95.67, 119.67, 143.67, 167.67, 191.67, 215.67, 239.67, 263.67], "labelExpr": "['18 Nov 2021','19 Nov 01:00','22 Nov 01:00','23 Nov 01:00','24 Nov 01:00','25 Nov 01:00','26 Nov 01:00','29 Nov 01:00','30 Nov 01:00','1 Dec 01:00','2 Dec 01:00','3 Dec 01:00'][round((datum.value + 0.4) / 24)]", "labelAlign": "left", "labelPadding": 1, "tickSize": 5, "labelOverlap": false, "labelFlush": false, "title": null}},
           "y": {"field": "v", "type": "quantitative", "scale": {"domain": [-6, 106.5], "nice": false, "zero": false},
             "axis": {"orient": "right", "values": [100, 95, 80, 20, 5, 0], "labelOverlap": false, "labelExpr": "datum.value == 0 ? '0.00' : datum.label", "title": null}},
           "color": {"field": "c", "type": "nominal", "scale": {"domain": ["b", "r"], "range": ["#1e90ff", "#ff0000"]}, "legend": null}}},
        {"data": {"values": [{"t": 1, "v": 89.6, "txt": "DSS_Mod(8,8) 23.5206 23.5206 23.5206"}]},
         "mark": {"type": "text", "align": "left", "baseline": "middle", "font": "Liberation Sans", "fontSize": 10, "color": "#ffffff"},
         "encoding": {"x": {"field": "t", "type": "quantitative", "scale": {"domain": [-0.33, 282.67], "nice": false, "zero": false},
           "axis": {"orient": "bottom", "values": [0, 23.67, 47.67, 71.67, 95.67, 119.67, 143.67, 167.67, 191.67, 215.67, 239.67, 263.67], "labelExpr": "['18 Nov 2021','19 Nov 01:00','22 Nov 01:00','23 Nov 01:00','24 Nov 01:00','25 Nov 01:00','26 Nov 01:00','29 Nov 01:00','30 Nov 01:00','1 Dec 01:00','2 Dec 01:00','3 Dec 01:00'][round((datum.value + 0.4) / 24)]", "labelAlign": "left", "labelPadding": 1, "tickSize": 5, "labelOverlap": false, "labelFlush": false, "title": null}},
           "y": {"field": "v", "type": "quantitative", "scale": {"domain": [-6, 106.5], "nice": false, "zero": false},
             "axis": {"orient": "right", "values": [100, 95, 80, 20, 5, 0], "labelOverlap": false, "labelExpr": "datum.value == 0 ? '0.00' : datum.label", "title": null}},
           "text": {"field": "txt"}}}
      ]
    }
  ],
  "resolve": {"scale": {"x": "independent", "y": "independent", "color": "independent"}}
}
],
"resolve": {"scale": {"x": "independent", "y": "independent", "color": "independent", "shape": "independent"}}
}
